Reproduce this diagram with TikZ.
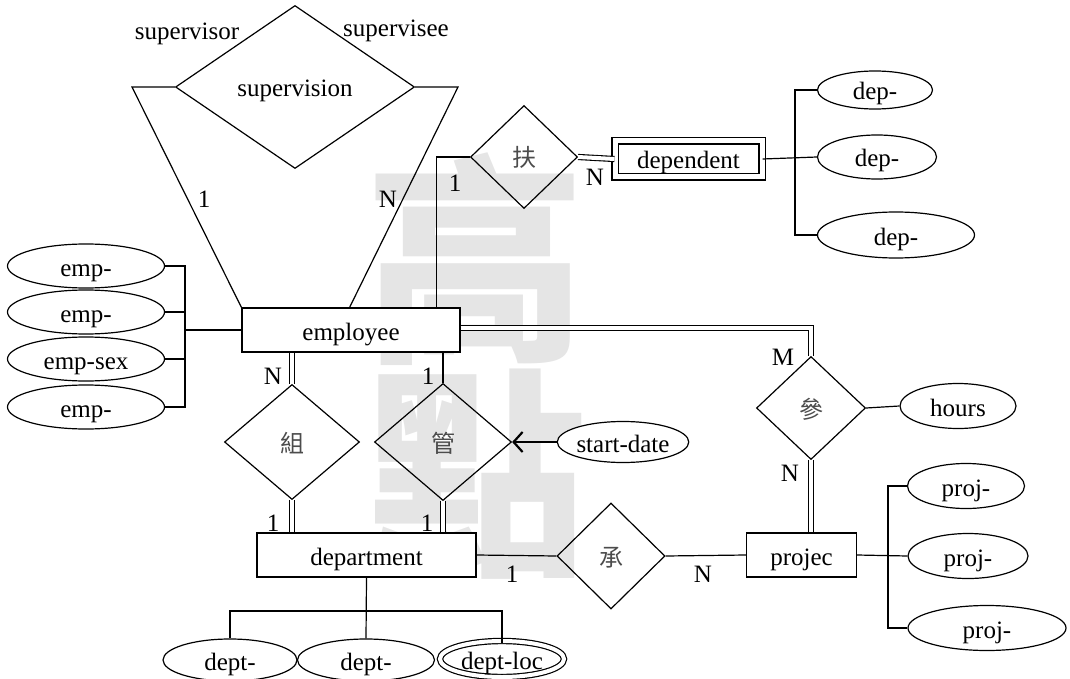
\documentclass[tikz,border=0pt]{standalone}
\usepackage{fontspec}
\setmainfont{Liberation Serif}
\newfontfamily\cjk{Noto Sans CJK TC}
\usetikzlibrary{shapes.geometric,arrows.meta}
\begin{document}
\begin{tikzpicture}[x=1pt,y=-1pt,
  every node/.style={font=\fontsize{25}{30}\selectfont},
  ln/.style={line width=1.2pt},
  txt/.style={text height=22.5pt,text depth=2.5pt},
  ent/.style={draw,fill=white,line width=1.2pt,rectangle,inner sep=0pt,txt},
  rel/.style={draw,line width=1.2pt,diamond,inner sep=0pt,txt,font=\cjk\fontsize{24}{28}\selectfont,text=black!70},
  attr/.style={draw,fill=white,line width=1.2pt,ellipse,inner sep=0pt,txt},
  dbl/.style={double,double distance=4pt,line width=1.1pt},
  card/.style={inner sep=0pt},
  wm/.style={text=black!10,font=\cjk\bfseries\fontsize{222}{222}\selectfont,inner sep=0pt}
]
\useasboundingbox (0,0) rectangle (1070,679);
% watermark
\node[wm] (wm1) at (475,259) {高};
\node[wm] (wm2) at (476,474) {點};

% entities
\node[ent,minimum width=218,minimum height=44] (emp) at (351,330) {employee};
\node[ent,double,double distance=5pt,minimum width=147,minimum height=36] (dep) at (688.5,159) {dependent};
\node[ent,minimum width=219,minimum height=44] (dept) at (366.5,555) {department};
\node[ent,minimum width=110,minimum height=44] (proj) at (801.5,555) {projec};

% relationships
\node[rel,minimum width=239,minimum height=163,font=\fontsize{25}{30}\selectfont,text=black] (sup) at (295,87) {supervision};
\node[rel,minimum width=107,minimum height=103] (fu) at (524,157) {扶};
\node[rel,minimum width=135,minimum height=115] (zu) at (292,442) {組};
\node[rel,minimum width=137,minimum height=117] (guan) at (443,442) {管};
\node[rel,minimum width=108,minimum height=106] (cheng) at (611,556) {承};
\node[rel,minimum width=109,minimum height=103] (can) at (811,408) {參};

% attributes
\node[attr,minimum width=157,minimum height=44] (emp1) at (86,266) {emp-};
\node[attr,minimum width=157,minimum height=44] (emp2) at (86,312) {emp-};
\node[attr,minimum width=157,minimum height=44] (emp3) at (86,359) {emp-sex};
\node[attr,minimum width=157,minimum height=44] (emp4) at (86,407) {emp-};
\node[attr,minimum width=115,minimum height=38] (dep1) at (875,90) {dep-};
\node[attr,minimum width=119,minimum height=44] (dep2) at (877,157) {dep-};
\node[attr,minimum width=157,minimum height=46] (dep3) at (896,235) {dep-};
\node[attr,minimum width=116,minimum height=45] (hours) at (958,406) {hours};
\node[attr,minimum width=113,minimum height=41] (sd) at (623,442) {start-date};
\node[attr,minimum width=117,minimum height=45] (proj1) at (966,486) {proj-};
\node[attr,minimum width=120,minimum height=45] (proj2) at (968,556) {proj-};
\node[attr,minimum width=158,minimum height=45] (proj3) at (987,628) {proj-};
\node[attr,minimum width=134,minimum height=42] (dept1) at (230,660) {dept-};
\node[attr,minimum width=137,minimum height=42] (dept2) at (366,660) {dept-};
\node[attr,double,double distance=4pt,minimum width=124,minimum height=36] (deptloc) at (502,659) {dept-loc};

% supervision connectors
\coordinate (sl) at (132,87);
\coordinate (sr) at (458,87);
\draw[ln] (sup.west) -- (sl) -- (emp.north west);
\draw[ln] (sup.east) -- (sr) -- ([xshift=-111pt]emp.north east);
\node[card] (c1) at (187,34) {supervisor};
\node[card] (c2) at (396,31) {supervisee};
\node[card] (c3) at (204,199) {1};
\node[card] (c4) at (388,199) {N};

% dependent
\draw[ln] (fu.west) -| ([xshift=-24pt]emp.north east);
\draw[dbl] (fu.east) -- (dep.west);
\node[card] (c5) at (455,183) {1};
\node[card] (c6) at (595,177) {N};
\coordinate (db) at (795,157);
\draw[ln] (dep.east) -- (dep2.west);
\draw[ln] (dep1.west) -| (db) |- (dep3.west);

% employee attributes
\coordinate (eb) at (185,330);
\draw[ln] (emp.west) -- (eb);
\draw[ln] (emp1.east) -| (eb) |- (emp4.east);
\draw[ln] (emp2.east) -- (emp2.east -| eb);
\draw[ln] (emp3.east) -- (emp3.east -| eb);

% works-for / manages
\draw[dbl] (zu.north) -- (zu.north |- emp.south);
\draw[ln] (guan.north) -- (guan.north |- emp.south);
\draw[dbl] (zu.south) -- (zu.south |- dept.north);
\draw[dbl] (guan.south) -- (guan.south |- dept.north);
\draw[line width=2.2pt,-{Straight Barb[length=9pt,width=20pt,line width=2.2pt]}] (sd.west) -- (guan.east);
\node[card] (c7) at (273,376) {N};
\node[card] (c8) at (428,376) {1};
\node[card] (c9) at (273,523) {1};
\node[card] (c10) at (427,523) {1};

% controls
\draw[ln] (dept.east) -- (cheng.west);
\draw[ln] (cheng.east) -- (proj.west);
\node[card] (c11) at (512,574) {1};
\node[card] (c12) at (703,574) {N};

% works-on
\draw[dbl] ([yshift=2pt]emp.east) -| (can.north);
\draw[dbl] (can.south) -- (can.south |- proj.north);
\draw[ln] (can.east) -- (hours.west);
\node[card] (c13) at (783,357) {M};
\node[card] (c14) at (790,473) {N};

% project attributes
\coordinate (pb) at (888,556);
\draw[ln] (proj.east) -- (proj2.west);
\draw[ln] (proj1.west) -| (pb) |- (proj3.west);

% department attributes
\coordinate (dt) at (366,611);
\draw[ln] (dept.south) -- (dept2.north);
\draw[ln] (dept1.north) -- (dept1.north |- dt) -- (deptloc.north |- dt) -- ([yshift=-2.5pt]deptloc.north);
\end{tikzpicture}
\end{document}
